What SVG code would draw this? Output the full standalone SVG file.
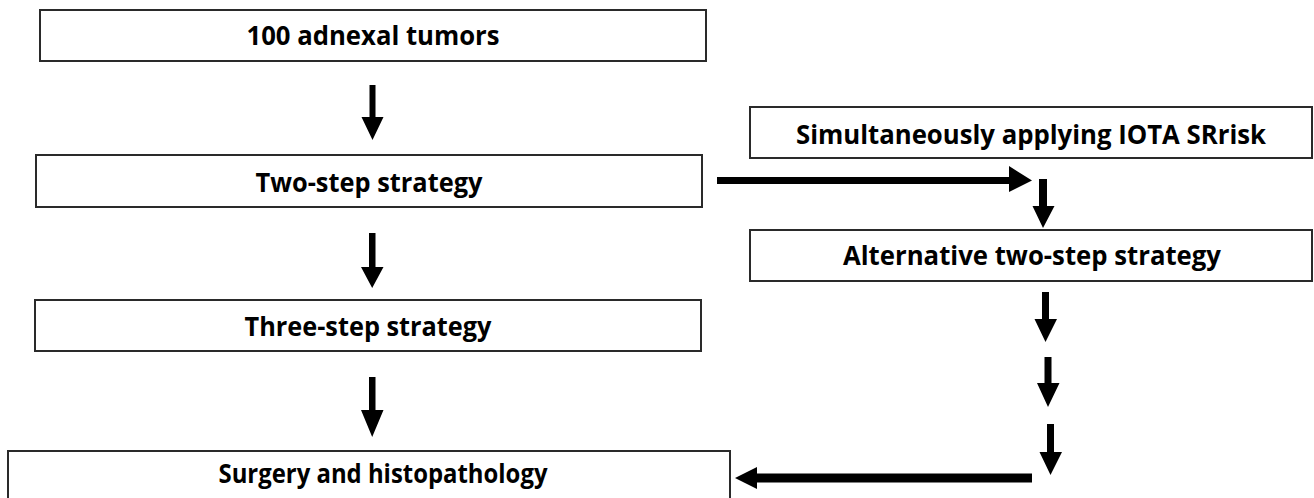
<svg xmlns="http://www.w3.org/2000/svg" width="1314" height="498" viewBox="0 0 1314 498">
<style>
.box{fill:#fff;stroke:#2a2a2a;stroke-width:2}
.lbl{font-family:"Open Sans","Liberation Sans",sans-serif;font-weight:bold;font-size:27px;fill:#000;text-anchor:middle}
.arr{fill:#000;stroke:none}
</style>
<rect width="1314" height="498" fill="#fff"/>
<g id="n1"><rect class="box" x="40" y="10" width="666" height="51"/><text class="lbl" x="373" y="45" textLength="253" lengthAdjust="spacingAndGlyphs">100 adnexal tumors</text></g>
<g id="n2"><rect class="box" x="36" y="155" width="666" height="52"/><text class="lbl" x="369" y="192" textLength="227" lengthAdjust="spacingAndGlyphs">Two-step strategy</text></g>
<g id="n3"><rect class="box" x="35" y="300" width="666" height="51"/><text class="lbl" x="368" y="336" textLength="247" lengthAdjust="spacingAndGlyphs">Three-step strategy</text></g>
<g id="n4"><rect class="box" x="8" y="451" width="722" height="60"/><text class="lbl" x="383" y="483" textLength="329" lengthAdjust="spacingAndGlyphs">Surgery and histopathology</text></g>
<g id="n5"><rect class="box" x="750" y="107" width="562" height="51"/><text class="lbl" x="1031" y="144" textLength="470" lengthAdjust="spacingAndGlyphs">Simultaneously applying IOTA SRrisk</text></g>
<g id="n6"><rect class="box" x="750" y="230" width="562" height="51"/><text class="lbl" x="1032" y="265" textLength="378" lengthAdjust="spacingAndGlyphs">Alternative two-step strategy</text></g>
<g id="connectors">
<path class="arr" d="M369.5,85 h6 v32 h8 L372.5,140 L361.5,117 h8 z"/>
<path class="arr" d="M369,233 h6.5 v34 h8 L372.2,288 L361,267 h8 z"/>
<path class="arr" d="M369,377 h6.5 v33 h8 L372.2,437 L361,410 h8 z"/>
<path class="arr" d="M717,177 h292 v-11 L1032,180.5 L1009,192 v-8 h-292 z"/>
<path class="arr" d="M1039,179 h8 v27 h7.5 L1043,228 L1032.5,206 h6.5 z"/>
<path class="arr" d="M1042,292 h7 v27 h8 L1045.5,342 L1034.5,319 h7.5 z"/>
<path class="arr" d="M1044.5,357 h7 v26 h8 L1048,407 L1037,383 h7.5 z"/>
<path class="arr" d="M1047,424 h7 v28 h8 L1050.5,475 L1039.5,452 h7.5 z"/>
<path class="arr" d="M1032,473.5 h-275 v-6.5 L735,478 L757,489 v-6.5 h275 z"/>
</g>
</svg>
